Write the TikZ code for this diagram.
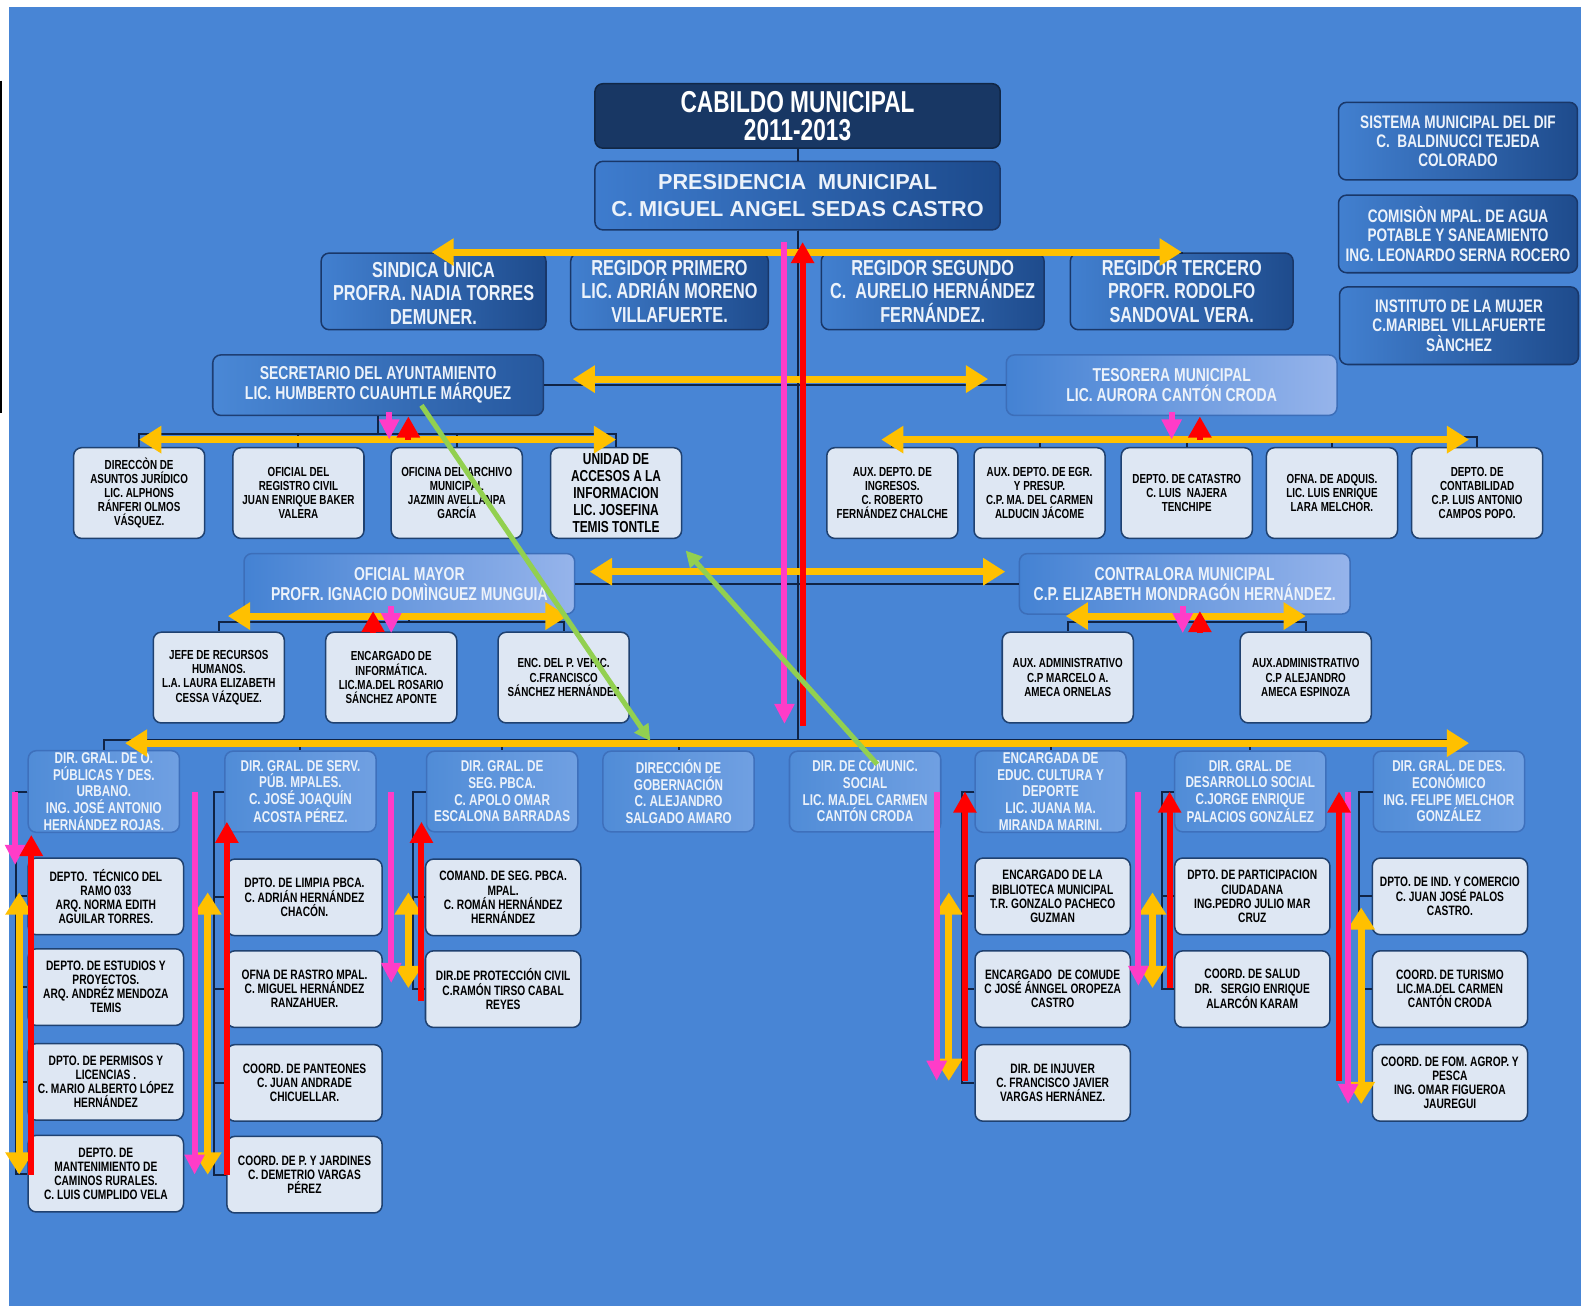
\documentclass[tikz,border=0pt]{standalone}
\usepackage{fontspec}
\setmainfont{Liberation Sans}
\newfontfamily\narrowfont[FakeStretch=0.75]{Liberation Sans}
\usetikzlibrary{arrows.meta}

\definecolor{bgblue}{RGB}{72,133,213}
\definecolor{navy}{RGB}{24,55,100}
\definecolor{linkcol}{RGB}{16,36,70}
\definecolor{childfill}{RGB}{222,231,243}
\definecolor{childdraw}{RGB}{31,65,112}
\definecolor{boxtext}{RGB}{236,242,250}
\definecolor{yellowarr}{RGB}{255,192,0}
\definecolor{pinkarr}{RGB}{255,60,200}
\definecolor{redarr}{RGB}{255,0,0}
\definecolor{greenarr}{RGB}{146,208,80}

\newcommand\titlefont{\narrowfont\bfseries\fontsize{30}{28}\selectfont}
\newcommand\presfont{\bfseries\fontsize{21.5}{26}\selectfont}
\newcommand\regfont{\narrowfont\bfseries\fontsize{21.5}{23}\selectfont}
\newcommand\sidefont{\narrowfont\bfseries\fontsize{18}{19}\selectfont}
\newcommand\midfont{\narrowfont\bfseries\fontsize{18.5}{20}\selectfont}
\newcommand\childfont{\narrowfont\bfseries\fontsize{13}{14}\selectfont}
\newcommand\unidadfont{\narrowfont\bfseries\fontsize{15.75}{17}\selectfont}
\newcommand\dirboxfont{\narrowfont\bfseries\fontsize{15.5}{16.5}\selectfont}
\newcommand\subboxfont{\narrowfont\bfseries\fontsize{13.5}{14}\selectfont}

\begin{document}
\begin{tikzpicture}[
  x=1pt, y=-1pt,
  box/.style={draw, rounded corners=8pt, align=center, inner sep=2pt, line width=1.5pt},
  titlebox/.style={box, fill=navy, draw=navy!70!black, text=white, minimum width=402pt, minimum height=64pt, font=\titlefont},
  presbox/.style={box, left color={rgb,255:red,62;green,124;blue,206}, right color={rgb,255:red,28;green,74;blue,140}, draw={rgb,255:red,25;green,55;blue,105}, text=boxtext, minimum width=402pt, minimum height=68pt, font=\presfont},
  regbox/.style={box, left color={rgb,255:red,66;green,128;blue,208}, right color={rgb,255:red,30;green,75;blue,140}, draw={rgb,255:red,25;green,55;blue,105}, text=boxtext, minimum height=76pt, font=\regfont},
  sidebox/.style={regbox, minimum width=237pt, minimum height=77pt, font=\sidefont},
  secbox/.style={box, left color={rgb,255:red,74;green,136;blue,214}, right color={rgb,255:red,38;green,88;blue,158}, draw={rgb,255:red,30;green,62;blue,115}, text=boxtext, minimum width=328pt, minimum height=60pt, font=\midfont},
  midbox/.style={secbox, left color={rgb,255:red,68;green,130;blue,211}, right color={rgb,255:red,150;green,180;blue,235}, draw={rgb,255:red,60;green,110;blue,185}},
  childbox/.style={box, fill=childfill, draw=childdraw, text=black, minimum width=130pt, minimum height=90pt, font=\childfont},
  subbox/.style={childbox, minimum width=154pt, minimum height=76pt, font=\subboxfont},
  dirbox/.style={box, left color={rgb,255:red,80;green,140;blue,215}, right color={rgb,255:red,112;green,160;blue,226}, draw={rgb,255:red,62;green,112;blue,188}, text=boxtext, minimum width=150pt, minimum height=80pt, font=\dirboxfont},
  link/.style={draw=linkcol, line width=2pt},
  yarrow/.style={draw=yellowarr, line width=7pt, {Triangle[length=22pt,width=26pt]}-{Triangle[length=22pt,width=26pt]}},
  parrow/.style={draw=pinkarr, line width=6pt, -{Triangle[length=20pt,width=19pt]}},
  rarrow/.style={draw=redarr, line width=6pt, -{Triangle[length=21pt,width=22pt]}},
  garrow/.style={draw=greenarr, line width=5pt, -{Triangle[length=16pt,width=16pt]}}
]
\useasboundingbox (0,0) rectangle (1568,1295);
\fill[white] (0,0) rectangle (1568,1295);
\fill[bgblue] (9,7) rectangle (1568,1295);
\draw[line width=2pt] (1,80) -- (1,410);

% top
\node[titlebox] (cab) at (791,115) {CABILDO MUNICIPAL\\2011-2013};
\node[presbox] (presid) at (791,194) {PRESIDENCIA\ \ MUNICIPAL\\C. MIGUEL ANGEL SEDAS CASTRO};

\node[sidebox] (dif) at (1446,140) {SISTEMA MUNICIPAL DEL DIF\\C.\ \ BALDINUCCI TEJEDA\\COLORADO};
\node[sidebox] (agua) at (1446,232) {COMISIÒN MPAL. DE AGUA\\POTABLE Y SANEAMIENTO\\ING. LEONARDO SERNA ROCERO};
\node[sidebox] (mujer) at (1447,323) {INSTITUTO DE LA MUJER\\C.MARIBEL VILLAFUERTE\\SÀNCHEZ};

\node[regbox, minimum width=223pt] (sindica) at (430,289) {SINDICA ÚNICA\\PROFRA. NADIA TORRES\\DEMUNER.};
\node[regbox, minimum width=196pt] (reg1) at (664,289) {REGIDOR PRIMERO\\LIC. ADRIÁN MORENO\\VILLAFUERTE.};
\node[regbox, minimum width=221pt] (reg2) at (925,289) {REGIDOR SEGUNDO\\C.\ \ AURELIO HERNÁNDEZ\\FERNÁNDEZ.};
\node[regbox, minimum width=221pt] (reg3) at (1172,289) {REGIDOR TERCERO\\PROFR. RODOLFO\\SANDOVAL VERA.};

% secretaria y tesoreria
\node[secbox] (sec) at (375,382) {SECRETARIO DEL AYUNTAMIENTO\\LIC. HUMBERTO CUAUHTLE MÁRQUEZ};
\node[midbox] (tes) at (1162,382) {TESORERA MUNICIPAL\\LIC. AURORA CANTÓN CRODA};

\node[childbox] (s1) at (138,489) {DIRECCÒN DE\\ASUNTOS JURÍDICO\\LIC. ALPHONS\\RÁNFERI OLMOS\\VÁSQUEZ.};
\node[childbox] (s2) at (296,489) {OFICIAL DEL\\REGISTRO CIVIL\\JUAN ENRIQUE BAKER\\VALERA};
\node[childbox] (s3) at (453,489) {OFICINA DEL ARCHIVO\\MUNICIPAL\\JAZMIN AVELLANPA\\GARCÍA};
\node[childbox, font=\unidadfont] (s4) at (611,489) {UNIDAD DE\\ACCESOS A LA\\INFORMACION\\LIC. JOSEFINA\\TEMIS TONTLE};

\node[childbox] (t1) at (885,489) {AUX. DEPTO. DE\\INGRESOS.\\C. ROBERTO\\FERNÁNDEZ CHALCHE};
\node[childbox] (t2) at (1031,489) {AUX. DEPTO. DE EGR.\\Y PRESUP.\\C.P. MA. DEL CARMEN\\ALDUCIN JÁCOME};
\node[childbox] (t3) at (1177,489) {DEPTO. DE CATASTRO\\C. LUIS\ \ NAJERA\\TENCHIPE};
\node[childbox] (t4) at (1321,489) {OFNA. DE ADQUIS.\\LIC. LUIS ENRIQUE\\LARA MELCHOR.};
\node[childbox] (t5) at (1465,489) {DEPTO. DE\\CONTABILIDAD\\C.P. LUIS ANTONIO\\CAMPOS POPO.};

% oficialia y contraloria
\node[midbox] (om) at (406,579) {OFICIAL MAYOR\\PROFR. IGNACIO DOMÌNGUEZ MUNGUIA};
\node[midbox] (contra) at (1175,579) {CONTRALORA MUNICIPAL\\C.P. ELIZABETH MONDRAGÓN HERNÁNDEZ.};

\node[childbox] (o1) at (217,672) {JEFE DE RECURSOS\\HUMANOS.\\L.A. LAURA ELIZABETH\\CESSA VÁZQUEZ.};
\node[childbox] (o2) at (388,672) {ENCARGADO DE\\INFORMÁTICA.\\LIC.MA.DEL ROSARIO\\SÁNCHEZ APONTE};
\node[childbox] (o3) at (559,672) {ENC. DEL P. VEHIC.\\C.FRANCISCO\\SÁNCHEZ HERNÁNDEZ};

\node[childbox] (c1) at (1059,672) {AUX. ADMINISTRATIVO\\C.P MARCELO A.\\AMECA ORNELAS};
\node[childbox] (c2) at (1295,672) {AUX.ADMINISTRATIVO\\C.P ALEJANDRO\\AMECA ESPINOZA};

% direcciones
\node[dirbox] (d1) at (103,785) {DIR. GRAL. DE O.\\PÚBLICAS Y DES.\\URBANO.\\ING. JOSÉ ANTONIO\\HERNÁNDEZ ROJAS.};
\node[dirbox] (d2) at (298,785) {DIR. GRAL. DE SERV.\\PÚB. MPALES.\\C. JOSÉ JOAQUÍN\\ACOSTA PÉREZ.};
\node[dirbox] (d3) at (498,785) {DIR. GRAL. DE\\SEG. PBCA.\\C. APOLO OMAR\\ESCALONA BARRADAS};
\node[dirbox] (d4) at (673,785) {DIRECCIÓN DE\\GOBERNACIÓN\\C. ALEJANDRO\\SALGADO AMARO};
\node[dirbox] (d5) at (858,785) {DIR. DE COMUNIC.\\SOCIAL\\LIC. MA.DEL CARMEN\\CANTÓN CRODA};
\node[dirbox] (d6) at (1042,785) {ENCARGADA DE\\EDUC. CULTURA Y\\DEPORTE\\LIC. JUANA MA.\\MIRANDA MARINI.};
\node[dirbox] (d7) at (1240,785) {DIR. GRAL. DE\\DESARROLLO SOCIAL\\C.JORGE ENRIQUE\\PALACIOS GONZÁLEZ};
\node[dirbox] (d8) at (1437,785) {DIR. GRAL. DE DES.\\ECONÓMICO\\ING. FELIPE MELCHOR\\GONZÁLEZ};

\node[subbox] (a1) at (105,889) {DEPTO.\ \ TÉCNICO DEL\\RAMO 033\\ARQ. NORMA EDITH\\AGUILAR TORRES.};
\node[subbox] (a2) at (105,979) {DEPTO. DE ESTUDIOS Y\\PROYECTOS.\\ARQ. ANDRÉZ MENDOZA\\TEMIS};
\node[subbox] (a3) at (105,1073) {DPTO. DE PERMISOS Y\\LICENCIAS .\\C. MARIO ALBERTO LÓPEZ\\HERNÁNDEZ};
\node[subbox] (a4) at (105,1164) {DEPTO. DE\\MANTENIMIENTO DE\\CAMINOS RURALES.\\C. LUIS CUMPLIDO VELA};

\node[subbox] (b1) at (302,890) {DPTO. DE LIMPIA PBCA.\\C. ADRIÁN HERNÁNDEZ\\CHACÓN.};
\node[subbox] (b2) at (302,981) {OFNA DE RASTRO MPAL.\\C. MIGUEL HERNÁNDEZ\\RANZAHUER.};
\node[subbox] (b3) at (302,1074) {COORD. DE PANTEONES\\C. JUAN ANDRADE\\CHICUELLAR.};
\node[subbox] (b4) at (302,1165) {COORD. DE P. Y JARDINES\\C. DEMETRIO VARGAS\\PÉREZ};

\node[subbox] (e1) at (499,890) {COMAND. DE SEG. PBCA.\\MPAL.\\C. ROMÁN HERNÁNDEZ\\HERNÁNDEZ};
\node[subbox] (e2) at (499,981) {DIR.DE PROTECCIÓN CIVIL\\C.RAMÓN TIRSO CABAL\\REYES};

\node[subbox] (f1) at (1044,889) {ENCARGADO DE LA\\BIBLIOTECA MUNICIPAL\\T.R. GONZALO PACHECO\\GUZMAN};
\node[subbox] (f2) at (1044,981) {ENCARGADO\ \ DE COMUDE\\C JOSÉ ÁNNGEL OROPEZA\\CASTRO};
\node[subbox] (f3) at (1044,1074) {DIR. DE INJUVER\\C. FRANCISCO JAVIER\\VARGAS HERNÁNEZ.};

\node[subbox] (g1) at (1242,889) {DPTO. DE PARTICIPACION\\CIUDADANA\\ING.PEDRO JULIO MAR\\CRUZ};
\node[subbox] (g2) at (1242,981) {COORD. DE SALUD\\DR.\ \ \ SERGIO ENRIQUE\\ALARCÓN KARAM};

\node[subbox] (h1) at (1438,889) {DPTO. DE IND. Y COMERCIO\\C. JUAN JOSÉ PALOS\\CASTRO.};
\node[subbox] (h2) at (1438,981) {COORD. DE TURISMO\\LIC.MA.DEL CARMEN\\CANTÓN CRODA};
\node[subbox] (h3) at (1438,1074) {COORD. DE FOM. AGROP. Y\\PESCA\\ING. OMAR FIGUEROA\\JAUREGUI};

% organigrama
\draw[link] (cab) -- (presid);
\foreach \c in {sindica,reg1,reg2,reg3}
  \draw[link] (presid.south) -- ++(0,22) -| (\c.north);
\foreach \c in {d1,d2,d3,d4,d5,d6,d7,d8}
  \draw[link] (presid.south) -- ++(0,505) -| (\c.north);
\draw[link] (sec) -- (tes);
\draw[link] (om) -- (contra);
\foreach \c in {s1,s2,s3,s4}
  \draw[link] (sec.south) -- ++(0,18) -| (\c.north);
\foreach \c in {t1,t2,t3,t4,t5}
  \draw[link] (tes.south) -- ++(0,21) -| (\c.north);
\foreach \c in {o1,o2,o3}
  \draw[link] (om.south) -- ++(0,7) -| (\c.north);
\foreach \c in {c1,c2}
  \draw[link] (contra.south) -- ++(0,7) -| (\c.north);
\foreach \c in {a1,a2,a3,a4}
  \draw[link] (d1.west) -- ++(-11,0) |- (\c.west);
\foreach \c in {b1,b2,b3,b4}
  \draw[link] (d2.west) -- ++(-10,0) |- (\c.west);
\foreach \c in {e1,e2}
  \draw[link] (d3.west) -- ++(-13,0) |- (\c.west);
\foreach \c in {f1,f2,f3}
  \draw[link] (d6.west) -- ++(-12,0) |- (\c.west);
\foreach \c in {g1,g2}
  \draw[link] (d7.west) -- ++(-12,0) |- (\c.west);
\foreach \c in {h1,h2,h3}
  \draw[link] (d8.west) -- ++(-13,0) |- (\c.west);

% flechas amarillas
\foreach \n/\xa/\ya/\xb/\yb in {1/428/250/1172/250, 2/568/376/980/376, 3/138/436/611/436,
    4/874/436/1457/436, 5/585/567/997/567, 6/226/611/563/611, 7/1057/611/1295/611,
    8/124/737/1457/737, 9/19/885/19/1165, 10/206/885/206/1165, 11/405/885/405/980,
    12/941/885/941/1072, 13/1143/885/1143/980, 14/1350/900/1350/1095} {
  \coordinate (ya\n) at (\xa,\ya);
  \coordinate (yb\n) at (\xb,\yb);
  \draw[yarrow] (ya\n) -- (yb\n);
}

% flechas rosas
\foreach \n/\x/\ya/\yb in {1/778/240/718, 2/15/785/858, 3/193/785/1165, 4/388/785/975,
    5/929/785/1072, 6/1129/785/978, 7/1337/785/1095, 8/386/409/436, 9/1162/409/436,
    10/388/601/628, 11/1173/601/628} {
  \coordinate (pa\n) at (\x,\ya);
  \coordinate (pb\n) at (\x,\yb);
  \draw[parrow] (pa\n) -- (pb\n);
}

% flechas rojas
\foreach \n/\x/\ya/\yb in {1/796/720/240, 2/31/1165/828, 3/225/1165/815, 4/418/993/815,
    5/957/1072/785, 6/1160/980/785, 7/1328/1072/785, 8/405/436/413, 9/1190/436/413,
    10/370/628/606, 11/1190/628/606} {
  \coordinate (ra\n) at (\x,\ya);
  \coordinate (rb\n) at (\x,\yb);
  \draw[rarrow] (ra\n) -- (rb\n);
}

% flechas verdes
\coordinate (ga1) at (418,402);
\coordinate (gb1) at (645,735);
\coordinate (ga2) at (870,758);
\coordinate (gb2) at (680,546);
\draw[garrow] (ga1) -- (gb1);
\draw[garrow] (ga2) -- (gb2);
\end{tikzpicture}
\end{document}
